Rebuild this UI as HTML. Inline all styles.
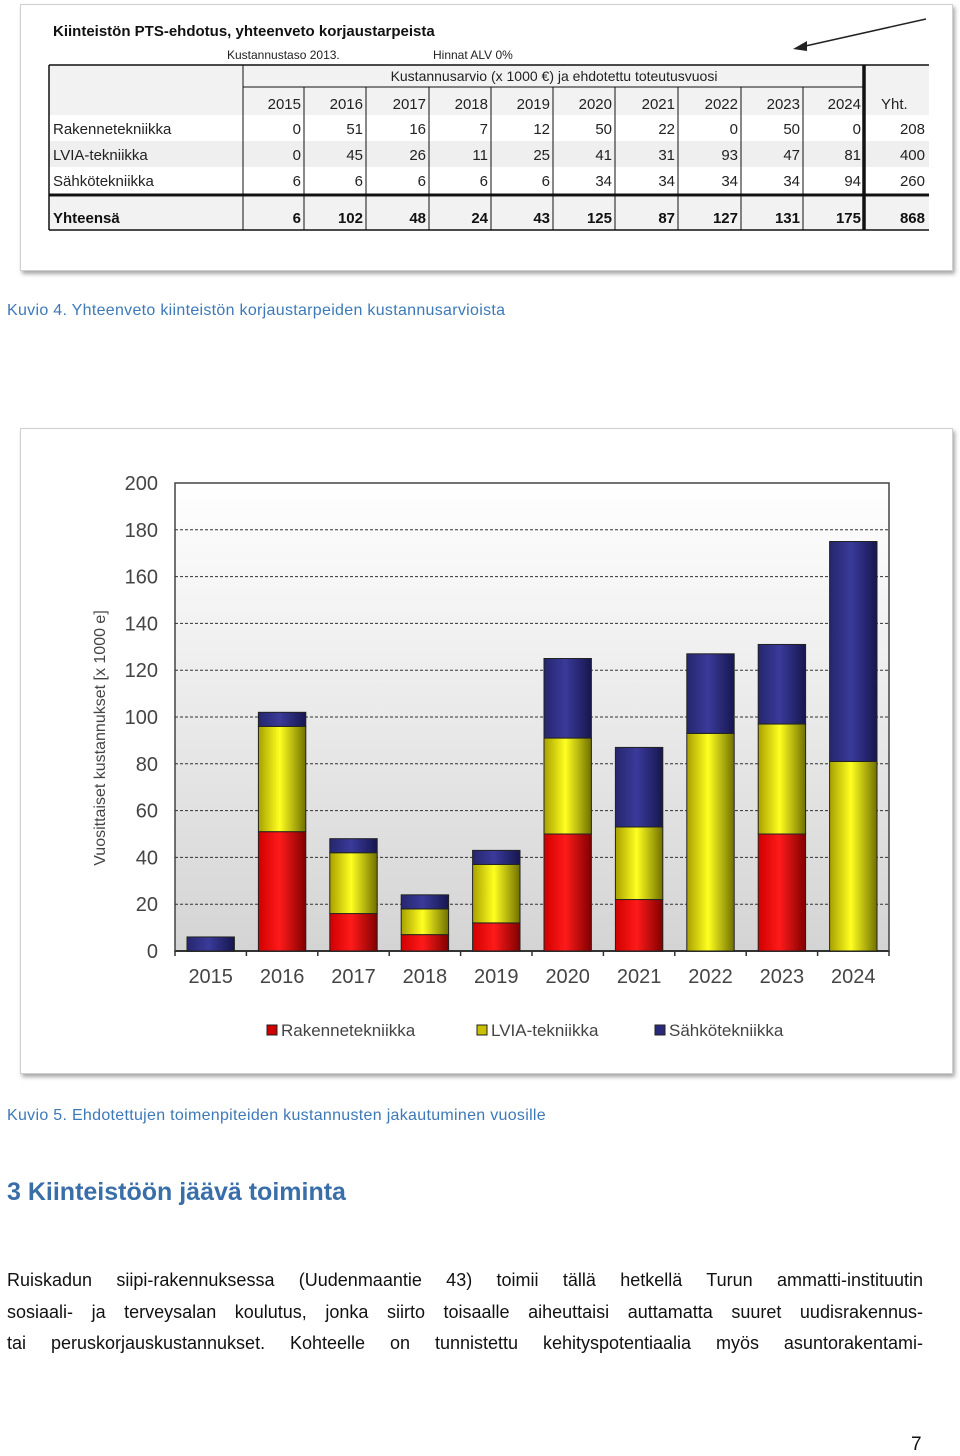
<!DOCTYPE html>
<html><head><meta charset="utf-8">
<style>
html,body{margin:0;padding:0;background:#fff;}
body{width:960px;height:1456px;position:relative;overflow:hidden;font-family:"Liberation Sans",sans-serif;}
.card{position:absolute;background:#fff;border:1px solid #cfcfcf;box-shadow:2px 3px 4px rgba(0,0,0,0.35);}
.cap{position:absolute;left:7px;color:#3d79b8;font-size:16px;letter-spacing:0.3px;}
.body-line{position:absolute;left:7px;width:916px;font-size:18px;color:#111;text-align:justify;text-align-last:justify;white-space:nowrap;}
</style></head>
<body>
<div class="card" style="left:20px;top:4px;width:931px;height:265px;">
<svg id="tbl" width="931" height="265" style="position:absolute;left:0;top:0;font-family:'Liberation Sans',sans-serif;"></svg>
</div>
<div class="cap" style="top:302px;">Kuvio 4. Yhteenveto kiinteistön korjaustarpeiden kustannusarvioista</div>

<div class="card" style="left:20px;top:428px;width:931px;height:644px;">
<svg id="chart" width="931" height="644" style="position:absolute;left:0;top:0;font-family:'Liberation Sans',sans-serif;"></svg>
</div>
<div class="cap" style="top:1107px;">Kuvio 5. Ehdotettujen toimenpiteiden kustannusten jakautuminen vuosille</div>
<div style="position:absolute;left:7px;top:1178px;font-size:25px;font-weight:bold;color:#3a6ea8;">3 Kiinteistöön jäävä toiminta</div>
<div class="body-line" style="top:1270px;">Ruiskadun siipi-rakennuksessa (Uudenmaantie 43) toimii tällä hetkellä Turun ammatti-instituutin</div>
<div class="body-line" style="top:1302px;">sosiaali- ja terveysalan koulutus, jonka siirto toisaalle aiheuttaisi auttamatta suuret uudisrakennus-</div>
<div class="body-line" style="top:1333px;">tai peruskorjauskustannukset. Kohteelle on tunnistettu kehityspotentiaalia myös asuntorakentami-</div>
<div style="position:absolute;left:911px;top:1434px;font-size:19px;color:#111;">7</div>

<script>
const years = ["2015","2016","2017","2018","2019","2020","2021","2022","2023","2024"];
const rakenne = [0,51,16,7,12,50,22,0,50,0];
const lvia = [0,45,26,11,25,41,31,93,47,81];
const sahko = [6,6,6,6,6,34,34,34,34,94];
const rowTotals = [208,400,260];
const yTicks = [0,20,40,60,80,100,120,140,160,180,200];
const NS="http://www.w3.org/2000/svg";
function mk(parent,tag,attrs,text){const e=document.createElementNS(NS,tag);for(const k in attrs)e.setAttribute(k,attrs[k]);if(text!==undefined)e.textContent=text;parent.appendChild(e);return e;}

// ---------- TABLE ----------
const T=document.getElementById('tbl');
const ox=-20, oy=-4;
function X(x){return x+ox;} function Y(y){return y+oy;}
const t1=mk(T,'text',{x:X(52),y:Y(35),'font-size':15,'font-weight':'bold',fill:'#111'},'Kiinteistön PTS-ehdotus, yhteenveto korjaustarpeista');


mk(T,'text',{x:X(226),y:Y(58),'font-size':12,fill:'#222'},'Kustannustaso 2013.');
mk(T,'text',{x:X(432),y:Y(58),'font-size':12,fill:'#222'},'Hinnat ALV 0%');
mk(T,'line',{x1:X(925),y1:Y(18),x2:X(800),y2:Y(46),stroke:'#222','stroke-width':1.5});
mk(T,'polygon',{points:`${X(792)},${Y(48)} ${X(806)},${Y(40)} ${X(806)},${Y(50)}`,fill:'#222'});
const colB=[242,303,365,428,490,552,614,677,740,802,863,928];
const L=48,R=928;
mk(T,'rect',{x:X(L),y:Y(64),width:R-L,height:50,fill:'#f2f2f2'});
mk(T,'rect',{x:X(L),y:Y(140),width:R-L,height:26,fill:'#efefef'});
mk(T,'rect',{x:X(L),y:Y(196),width:R-L,height:33,fill:'#f2f2f2'});
mk(T,'line',{x1:X(L),y1:Y(64),x2:X(R),y2:Y(64),stroke:'#111','stroke-width':1.5});
mk(T,'line',{x1:X(242),y1:Y(86),x2:X(863),y2:Y(86),stroke:'#111','stroke-width':1});
mk(T,'line',{x1:X(L),y1:Y(194),x2:X(R),y2:Y(194),stroke:'#111','stroke-width':3});
mk(T,'line',{x1:X(L),y1:Y(229),x2:X(R),y2:Y(229),stroke:'#111','stroke-width':1.5});
mk(T,'line',{x1:X(L),y1:Y(64),x2:X(L),y2:Y(229),stroke:'#111','stroke-width':1.5});
mk(T,'line',{x1:X(242),y1:Y(64),x2:X(242),y2:Y(229),stroke:'#111','stroke-width':1});
for(let i=1;i<colB.length-2;i++) mk(T,'line',{x1:X(colB[i]),y1:Y(86),x2:X(colB[i]),y2:Y(229),stroke:'#111','stroke-width':1});
mk(T,'line',{x1:X(863),y1:Y(64),x2:X(863),y2:Y(229),stroke:'#111','stroke-width':3.5});
mk(T,'text',{x:X(553),y:Y(80),'font-size':14,'text-anchor':'middle',fill:'#222'},'Kustannusarvio (x 1000 €) ja ehdotettu toteutusvuosi');
const rowNames=["Rakennetekniikka","LVIA-tekniikka","Sähkötekniikka"];
const rows=[rakenne,lvia,sahko];
const rowY=[133,159,185];
years.forEach((yr,i)=>{
  const t=mk(T,'text',{x:X(colB[i+1]-3),y:Y(108),'font-size':15,'text-anchor':'end',fill:'#222'},yr);
  
  
});
mk(T,'text',{x:X(880),y:Y(108),'font-size':15,fill:'#222'},'Yht.');
rows.forEach((r,ri)=>{
  mk(T,'text',{x:X(52),y:Y(rowY[ri]),'font-size':15,fill:'#222'},rowNames[ri]);
  r.forEach((v,i)=>mk(T,'text',{x:X(colB[i+1]-3),y:Y(rowY[ri]),'font-size':15,'text-anchor':'end',fill:'#222'},v));
  mk(T,'text',{x:X(924),y:Y(rowY[ri]),'font-size':15,'text-anchor':'end',fill:'#222'},rowTotals[ri]);
});
mk(T,'text',{x:X(52),y:Y(222),'font-size':15,'font-weight':'bold',fill:'#111'},'Yhteensä');
let grand=0;
years.forEach((yr,i)=>{const s=rakenne[i]+lvia[i]+sahko[i];grand+=s;mk(T,'text',{x:X(colB[i+1]-3),y:Y(222),'font-size':15,'font-weight':'bold','text-anchor':'end',fill:'#111'},s);});
mk(T,'text',{x:X(924),y:Y(222),'font-size':15,'font-weight':'bold','text-anchor':'end',fill:'#111'},grand);

// ---------- CHART ----------
const C=document.getElementById('chart');
const cx=-20, cy=-428;
const px0=174, px1=888, py0=950, py1=482, ymax=200;
function yS(v){return py0-(v/ymax)*(py0-py1)+cy;}
function xS(i){return px0+(px1-px0)/years.length*i+cx;}
const bw=(px1-px0)/years.length;
const defs=mk(C,'defs',{});
function grad(id,c1,c2,c3){
  const g=mk(defs,'linearGradient',{id:id,x1:0,y1:0,x2:1,y2:0});
  mk(g,'stop',{offset:'0','stop-color':c1});
  mk(g,'stop',{offset:'0.45','stop-color':c2});
  mk(g,'stop',{offset:'1','stop-color':c3});
}
grad('gr','#d00000','#ff1a1a','#800000');
grad('gy','#a8a000','#ffff20','#707000');
grad('gb','#26266e','#3a3a9a','#161650');
const bg=mk(defs,'linearGradient',{id:'bgp',x1:0,y1:0,x2:0,y2:1});
mk(bg,'stop',{offset:'0','stop-color':'#ffffff'});
mk(bg,'stop',{offset:'1','stop-color':'#d4d4d4'});
mk(C,'rect',{x:px0+cx,y:py1+cy,width:px1-px0,height:py0-py1,fill:'url(#bgp)',stroke:'#444','stroke-width':1.5});
yTicks.forEach(v=>{
  if(v>0&&v<200) mk(C,'line',{x1:px0+cx,y1:yS(v),x2:px1+cx,y2:yS(v),stroke:'#333','stroke-width':1,'stroke-dasharray':'3,2'});
  const t=mk(C,'text',{x:157+cx,y:yS(v)+7,'font-size':20,'text-anchor':'end',fill:'#444'},v);
  
  
});
mk(C,'line',{x1:px0+cx,y1:py0+cy,x2:px1+cx,y2:py0+cy,stroke:'#333','stroke-width':2});
for(let i=0;i<=years.length;i++) mk(C,'line',{x1:xS(i),y1:py0+cy,x2:xS(i),y2:py0+cy+5,stroke:'#333','stroke-width':1.5});
const yt=mk(C,'text',{x:0,y:0,'font-size':16,'text-anchor':'middle',fill:'#444',transform:`translate(${104+cx},${737+cy}) rotate(-90)`},'Vuosittaiset kustannukset [x 1000 e]');


const series=[[rakenne,'url(#gr)','rakenne'],[lvia,'url(#gy)','lvia'],[sahko,'url(#gb)','sahko']];
years.forEach((yr,i)=>{
  let base=0;
  series.forEach(([arr,fill,nm])=>{
    const v=arr[i];
    if(v>0){
      const r=mk(C,'rect',{x:xS(i)+12,y:yS(base+v),width:bw-24,height:yS(base)-yS(base+v),fill:fill,stroke:'#222','stroke-width':1});
      
      
    }
    base+=v;
  });
  const t=mk(C,'text',{x:xS(i)+bw/2,y:py0+cy+32,'font-size':20,'text-anchor':'middle',fill:'#444'},yr);
  
  
});
const leg=[['Rakennetekniikka','#d00000',266],['LVIA-tekniikka','#c8c000',476],['Sähkötekniikka','#2a2a7a',654]];
leg.forEach(([n,c,x])=>{
  const g=mk(C,'g',{});
  
  
  mk(g,'rect',{x:x+cx,y:1024+cy,width:10,height:10,fill:c,stroke:'#222','stroke-width':1});
  mk(g,'text',{x:x+14+cx,y:1035+cy,'font-size':17,fill:'#444'},n);
});
</script>
</body></html>
